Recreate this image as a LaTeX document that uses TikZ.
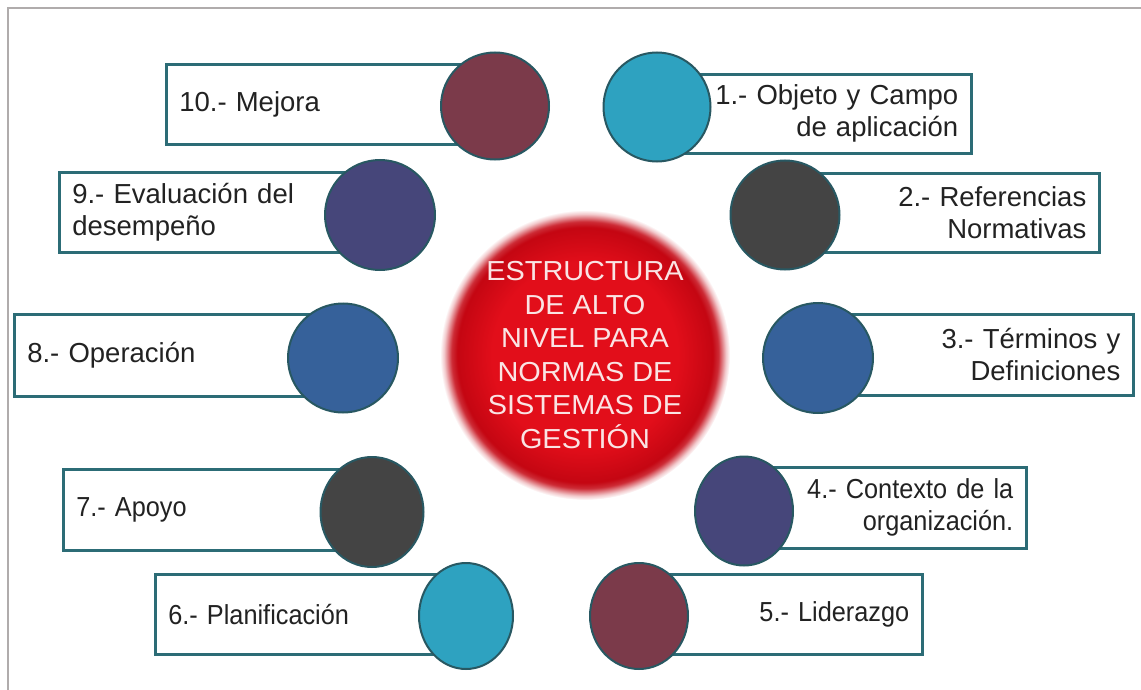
\documentclass[tikz,border=0pt]{standalone}
\usepackage{fontspec}
\setmainfont{Liberation Sans}
\newfontfamily\narrowfont{Liberation Sans}[FakeStretch=0.92]
\newfontfamily\widefont{Liberation Sans}[FakeStretch=1.05]
\usetikzlibrary{shapes.geometric}

\definecolor{boxline}{RGB}{44,108,118}
\definecolor{dotline}{RGB}{40,88,98}
\definecolor{maroon}{RGB}{123,58,74}
\definecolor{skyteal}{RGB}{46,162,192}
\definecolor{slate}{RGB}{70,70,122}
\definecolor{charcoal}{RGB}{68,68,68}
\definecolor{steel}{RGB}{54,97,154}
\definecolor{redcore}{RGB}{226,14,26}
\definecolor{reddark}{RGB}{196,6,18}
\definecolor{framegray}{RGB}{176,172,172}
\definecolor{inktext}{RGB}{34,34,34}
\definecolor{coretext}{RGB}{250,228,228}

\pgfdeclareradialshading{redball}{\pgfpoint{0bp}{0bp}}{color(0bp)=(redcore); color(16bp)=(redcore); color(22bp)=(reddark); color(23bp)=(reddark!85!white); color(24.3bp)=(reddark!22!white); color(25bp)=(white)}

\tikzset{
  itembox/.style={draw=boxline, line width=2.6pt, fill=white, anchor=north west,
    inner xsep=13pt, inner ysep=0pt, text=inktext, font=\fontsize{27.5}{32}\selectfont},
  leftbox/.style={itembox, align=left},
  rightbox/.style={itembox, align=right},
  lowrow/.style={font=\narrowfont\fontsize{27.5}{32}\selectfont},
  dot/.style={ellipse, draw=dotline, line width=2pt, fill=#1, inner sep=0pt},
}

\begin{document}
\begin{tikzpicture}[x=1pt,y=-1pt]
  \useasboundingbox (0,0) rectangle (1141,690);
  % marco gris
  \draw[framegray, line width=1.5pt] (8,690) -- (8,8) -- (1141,8);

  % circulo central
  \node[circle, minimum size=290pt, shade, shading=redball, align=center,
    text=coretext, font=\widefont\fontsize{27.5}{33.5}\selectfont] (core) at (585,355)
    {ESTRUCTURA\\DE ALTO\\NIVEL PARA\\NORMAS DE\\SISTEMAS DE\\GESTIÓN};

  % cajas de la izquierda
  \node[leftbox, text width=304pt, minimum height=80pt] (b10) at (165,63) {10.- Mejora};
  \node[leftbox, text width=296pt, minimum height=80pt] (b9) at (58,171) {9.- Evaluación del\\desempeño};
  \node[leftbox, text width=304pt, minimum height=82pt] (b8) at (13,313) {8.- Operación};
  \node[leftbox, lowrow, text width=284pt, minimum height=81pt] (b7) at (62,468) {7.- Apoyo};
  \node[leftbox, lowrow, text width=286pt, minimum height=80pt] (b6) at (154,573) {6.- Planificación};

  % cajas de la derecha
  \node[rightbox, text width=287pt, minimum height=79pt] (b1) at (657,73) {1.- Objeto y Campo\\de aplicación};
  \node[rightbox, text width=287pt, minimum height=79pt] (b2) at (785,172) {2.- Referencias\\Normativas};
  \node[rightbox, text width=288pt, minimum height=81pt] (b3) at (818,313) {3.- Términos y\\Definiciones};
  \node[rightbox, lowrow, text width=255pt, minimum height=81pt] (b4) at (744,466) {4.- Contexto de la\\organización.};
  \node[rightbox, lowrow, text width=256pt, minimum height=80pt] (b5) at (639,573) {5.- Liderazgo};

  % pallini
  \node[dot=maroon, minimum width=108pt, minimum height=107pt] (c10) at (495,106) {};
  \node[dot=slate, minimum width=110pt, minimum height=110pt] (c9) at (380,215) {};
  \node[dot=steel, minimum width=110pt, minimum height=109pt] (c8) at (343,358) {};
  \node[dot=charcoal, minimum width=103pt, minimum height=110pt] (c7) at (372,512) {};
  \node[dot=skyteal, minimum width=94pt, minimum height=106pt] (c6) at (466,616) {};
  \node[dot=skyteal, minimum width=107pt, minimum height=109pt] (c1) at (657,107) {};
  \node[dot=charcoal, minimum width=109pt, minimum height=109pt] (c2) at (785,215) {};
  \node[dot=steel, minimum width=110pt, minimum height=110pt] (c3) at (818,358) {};
  \node[dot=slate, minimum width=98pt, minimum height=109pt] (c4) at (744,511) {};
  \node[dot=maroon, minimum width=98pt, minimum height=106pt] (c5) at (639,616) {};
\end{tikzpicture}
\end{document}
